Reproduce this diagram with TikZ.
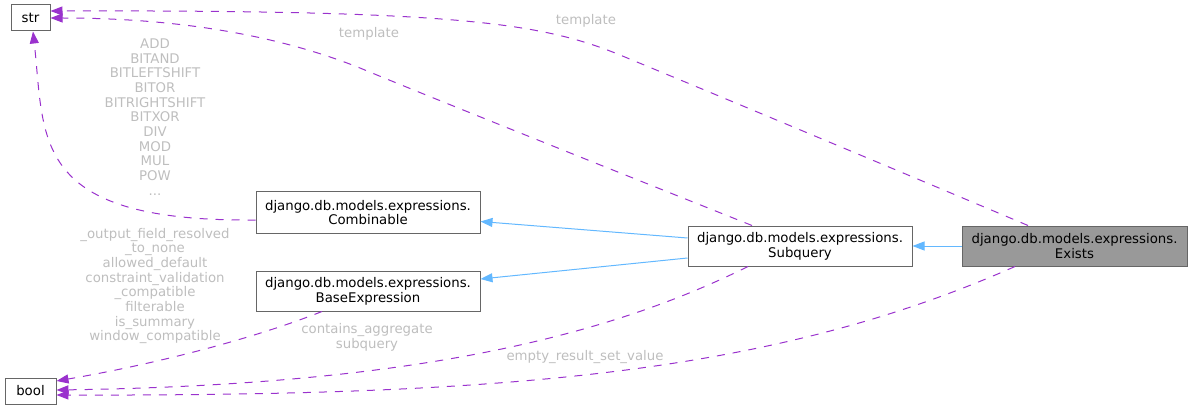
\documentclass[tikz,border=0pt]{standalone}
\usepackage{fontspec}
\setmainfont{DejaVu Sans}
\usetikzlibrary{arrows.meta,calc}
\definecolor{depc}{HTML}{9A32CD}
\definecolor{inhc}{HTML}{63B8FF}
\definecolor{lblc}{HTML}{BEBEBE}
\definecolor{bordc}{HTML}{666666}
\definecolor{hlc}{HTML}{999999}
\begin{document}
\begin{tikzpicture}[x=1pt,y=-1pt,
  every node/.style={font=\fontsize{13.3}{14.7}\selectfont},
  box/.style={draw=bordc, line width=1pt, fill=white, inner sep=0pt, align=center,
              minimum width=224pt, minimum height=40pt},
  smallbox/.style={box, minimum height=26pt},
  deparrow/.style={depc, line width=1pt, dash pattern=on 8pt off 8pt,
                   -{Triangle[length=12pt,width=9pt]}},
  inharrow/.style={inhc, line width=1pt, -{Triangle[length=12pt,width=9pt]}},
  lab/.style={text=lblc, align=center, inner sep=0pt}]
\useasboundingbox (0,0) rectangle (1192,409);

% nodes
\node[smallbox, minimum width=39pt] (str) at (30.5,18) {str};
\node[smallbox, minimum width=51pt] (bool) at (30.5,391) {bool};
\node[box, minimum height=41pt] (comb) at (368,212.5) {django.db.models.expressions.\\Combinable};
\node[box] (base) at (368,291) {django.db.models.expressions.\\BaseExpression};
\node[box] (sub) at (800,246) {django.db.models.expressions.\\Subquery};
\node[box, fill=hlc, minimum width=225pt] (exists) at (1074.5,246) {django.db.models.expressions.\\Exists};

% inheritance
\draw[inharrow] (exists.west) -- (sub.east);
\draw[inharrow] ($(sub.west)+(0,-8)$) -- ($(comb.east)+(0,9)$);
\draw[inharrow] ($(sub.west)+(0,12)$) -- ($(base.east)+(0,-12)$);

% usage
\draw[deparrow] ($(exists.north)+(-46.5,0)$) .. controls (880,163) and (700,88) .. (620,55)
      .. controls (540,22) and (450,10) .. ($(str.east)+(0,-7)$);
\draw[deparrow] ($(sub.north)+(-48,0)$) .. controls (600,165) and (420,93) .. (360,68)
      .. controls (260,28) and (150,18) .. (str.east);
\draw[deparrow] ($(comb.west)+(0,7.5)$) .. controls (30,222) and (45,140) .. ($(str.south)+(2.5,0)$);
\draw[deparrow] ($(base.south)+(-46,0)$) .. controls (250,340) and (150,365) .. ($(bool.east)+(0,-10)$);
\draw[deparrow] ($(sub.south)+(-52,0)$) .. controls (600,340) and (400,385) .. ($(bool.east)+(0,-1)$);
\draw[deparrow] ($(exists.south)+(-59.5,0)$) .. controls (770,375) and (500,396) .. ($(bool.east)+(0,4)$);

% labels
\node[lab] (l1) at (586,21) {template};
\node[lab] (l2) at (369,34) {template};
\node[lab] (l3) at (155,117) {ADD\\BITAND\\BITLEFTSHIFT\\BITOR\\BITRIGHTSHIFT\\BITXOR\\DIV\\MOD\\MUL\\POW\\...};
\node[lab] (l4) at (155,286) {\_output\_field\_resolved\\\_to\_none\\allowed\_default\\constraint\_validation\\\_compatible\\filterable\\is\_summary\\window\_compatible};
\node[lab] (l5) at (367,337) {contains\_aggregate\\subquery};
\node[lab] (l6) at (585,357) {empty\_result\_set\_value};
\end{tikzpicture}
\end{document}
